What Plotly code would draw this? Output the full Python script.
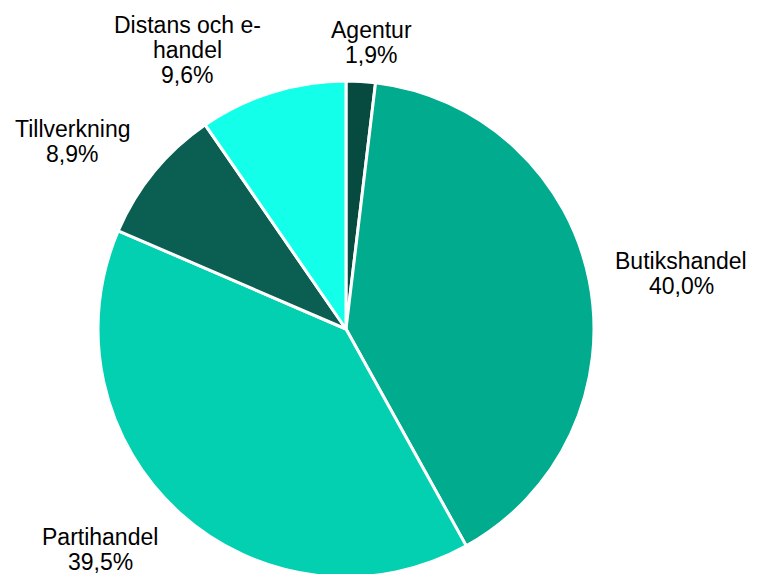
import plotly.graph_objects as go

labels = ["Agentur", "Butikshandel", "Partihandel", "Tillverkning", "Distans och e-handel"]
label_lines = [["Agentur"], ["Butikshandel"], ["Partihandel"], ["Tillverkning"], ["Distans och e-", "handel"]]
values = [1.9, 40.0, 39.5, 8.9, 9.6]
colors = ["#064A40", "#01AB8E", "#02D0B0", "#0A5E52", "#14FFE9"]
# first-line centre of each label block in screen pixels (x, y)
label_pos = [(371, 30), (681, 261), (100, 537), (72, 129), (187, 25)]

W, H = 757, 574
OFF = 8          # page body margin
LINE = 25        # line spacing in px
FS = 23

fig = go.Figure(go.Pie(
    labels=labels,
    values=values,
    sort=False,
    direction="clockwise",
    rotation=0,
    marker=dict(colors=colors, line=dict(color="white", width=3)),
    textinfo="none",
    hoverinfo="label+percent",
    domain=dict(x=[90 / W, 586 / W], y=[1 - 569 / H, 1 - 73 / H]),
))

for lines, v, (px, py) in zip(label_lines, values, label_pos):
    all_lines = lines + [f"{v:.1f}%".replace(".", ",")]
    for i, ln in enumerate(all_lines):
        fig.add_annotation(
            x=(px - OFF) / W, y=1 - (py - OFF + i * LINE) / H,
            xref="paper", yref="paper",
            text=ln, showarrow=False,
            xanchor="center", yanchor="middle", align="center",
            font=dict(family="Liberation Sans, Arial, sans-serif", size=FS, color="#000000"),
        )

fig.update_layout(
    width=W, height=H,
    margin=dict(l=0, r=0, t=0, b=0),
    showlegend=False,
    paper_bgcolor="white",
    plot_bgcolor="white",
)

fig.write_html("out.html")
